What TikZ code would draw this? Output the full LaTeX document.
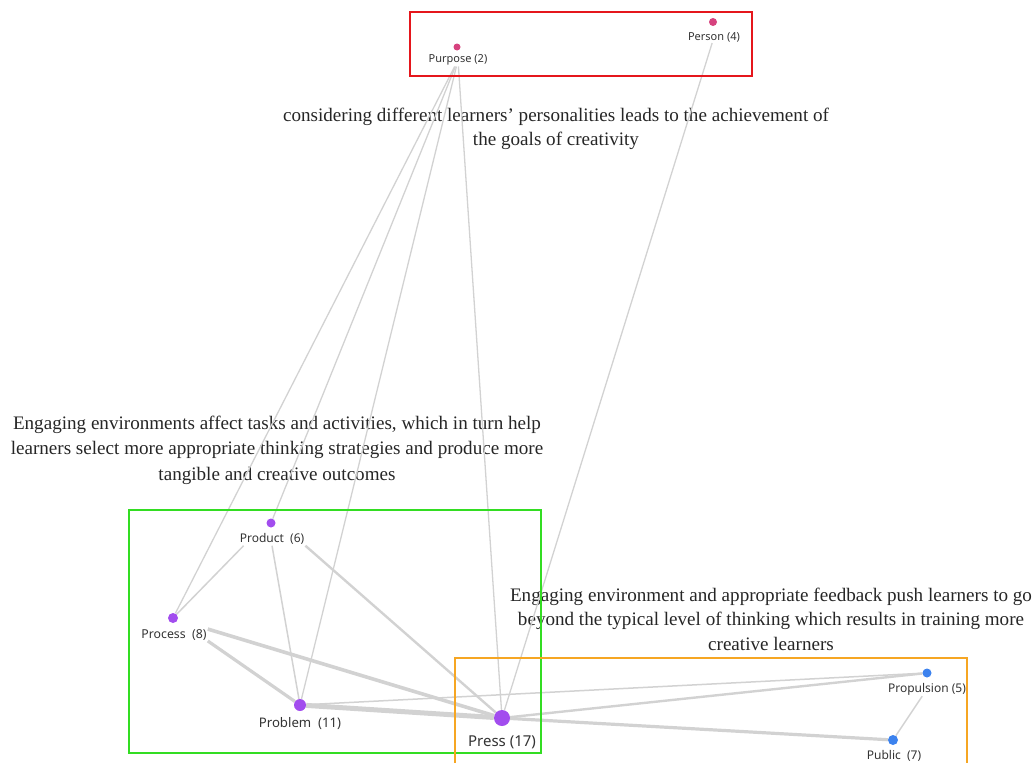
\documentclass[tikz,border=0pt]{standalone}
\usepackage{fontspec}
\setmainfont{Liberation Serif}
\newfontfamily\lblfont{Noto Sans}
\definecolor{edgec}{HTML}{D2D2D2}
\definecolor{pinkc}{HTML}{D6427E}
\definecolor{purpc}{HTML}{A24DEE}
\definecolor{bluec}{HTML}{3C82EE}
\definecolor{redc}{HTML}{E5161C}
\definecolor{greenc}{HTML}{33DD22}
\definecolor{orangec}{HTML}{F6A623}
\tikzset{
  dot/.style={circle,inner sep=0pt,minimum size=#1},
  lbl/.style={inner sep=1pt,font=\lblfont\fontsize{11}{12}\selectfont,text=black!80},
  edge/.style={draw=edgec,line width=#1},
  frame/.style={line width=2.6pt},
  quote/.style={align=center,font=\fontsize{19.1}{24.5}\selectfont,text=black!85,inner sep=0pt}
}
\begin{document}
\begin{tikzpicture}[x=1pt,y=-1pt]
\useasboundingbox (0,0) rectangle (1034,763);
% quotes
\node[quote] (q1) at (556,129) {considering different learners' personalities leads to the achievement of\\the goals of creativity};
\node[quote,font=\fontsize{19.1}{25.5}\selectfont] (q2) at (277,450) {Engaging environments affect tasks and activities, which in turn help\\learners select more appropriate thinking strategies and produce more\\tangible and creative outcomes};
\node[quote] (q3) at (771,619) {Engaging environment and appropriate feedback push learners to go\\beyond the typical level of thinking which results in training more\\creative learners};
% dots
\node[dot=7pt] (purpose) at (457,47) {};
\node[dot=8pt] (person) at (713,22) {};
\node[dot=9pt] (product) at (271,523) {};
\node[dot=10pt] (process) at (173,618) {};
\node[dot=12pt] (problem) at (300,705) {};
\node[dot=16pt] (press) at (502,718) {};
\node[dot=9pt] (propulsion) at (927,673) {};
\node[dot=10pt] (public) at (893,740) {};
% labels
\node[lbl] (purposeL) at (458,60) {Purpose (2)};
\node[lbl] (personL) at (714,37) {Person (4)};
\node[lbl,font=\lblfont\fontsize{12}{13}\selectfont] (productL) at (272,539) {Product\ \ (6)};
\node[lbl,font=\lblfont\fontsize{12.3}{13}\selectfont] (processL) at (174,635) {Process\ \ (8)};
\node[lbl,font=\lblfont\fontsize{13.2}{14}\selectfont] (problemL) at (300,724) {Problem\ \ (11)};
\node[lbl,font=\lblfont\fontsize{15}{16}\selectfont] (pressL) at (502,742) {Press (17)};
\node[lbl,font=\lblfont\fontsize{12}{13}\selectfont] (propulsionL) at (927,689) {Propulsion (5)};
\node[lbl,font=\lblfont\fontsize{12}{13}\selectfont] (publicL) at (894,756) {Public\ \ (7)};
% edges
\draw[edge=1.3pt] (purposeL) -- (process);
\draw[edge=1.3pt] (purposeL) -- (product);
\draw[edge=1.3pt] (purposeL) -- (problem);
\draw[edge=1.3pt] (purposeL) -- (press);
\draw[edge=1.3pt] (personL) -- (press);
\draw[edge=1.5pt] ([xshift=5pt]productL.south west) -- (process);
\draw[edge=1.5pt] (productL.south) -- (problem);
\draw[edge=2.4pt] (productL.south east) -- (press);
\draw[edge=3.2pt] (processL.-10) -- (problem);
\draw[edge=3.6pt] (processL.10) -- (press);
\draw[edge=5pt] (problem) -- (press);
\draw[edge=1.5pt] (problem) -- (propulsion);
\draw[edge=2.4pt] (press) -- (propulsion);
\draw[edge=3.2pt] (press) -- (public);
\draw[edge=1.5pt] (propulsionL) -- (public);
% dots on top
\foreach \n/\c/\r in {purpose/pinkc/3.5,person/pinkc/4,product/purpc/4.5,process/purpc/5,problem/purpc/6,press/purpc/8,propulsion/bluec/4.5,public/bluec/5}
  \fill[\c] (\n.center) circle[radius=\r pt];
% frames
\draw[frame,draw=redc] (410,12) rectangle (752,76);
\draw[frame,draw=greenc] (129,510) rectangle (541,753);
\draw[frame,draw=orangec] (455,658) rectangle (967,770);
\end{tikzpicture}
\end{document}
